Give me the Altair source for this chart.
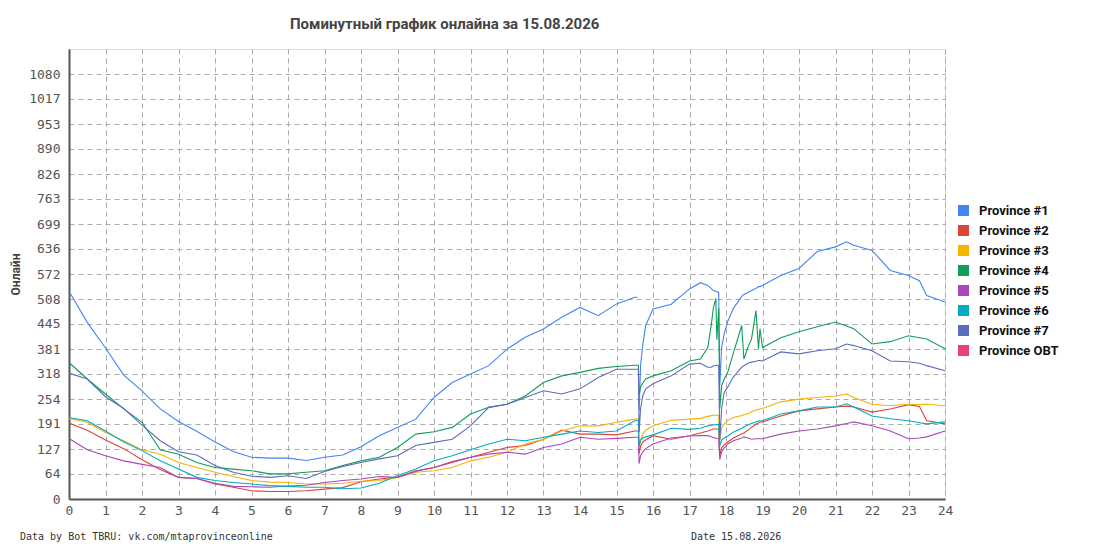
import altair as alt
import pandas as pd

# time grid (hours)
hours = [0, 0.5, 1, 1.5, 2, 2.5, 3, 3.5, 4, 4.5, 5, 5.5, 6, 6.5, 7, 7.5,
         8, 8.5, 9, 9.5, 10, 10.5, 11, 11.5, 12, 12.5, 13, 13.5, 14, 14.5, 15, 15.5,
         15.58, 15.6, 15.62, 15.66, 15.72, 15.8, 16, 16.5, 17, 17.3, 17.5, 17.6, 17.65,
         17.72, 17.75, 17.8, 17.83, 17.88, 17.95, 18.05, 18.2, 18.43, 18.49, 18.6, 18.7,
         18.82, 18.89, 18.93, 19, 19.5, 20, 20.5, 21, 21.3, 21.5, 22, 22.5, 23, 23.3, 23.5, 24]

p1 = [528, 449, 384, 315, 275, 229, 197, 172, 145, 121, 106, 104, 104, 98, 106, 112,
      133, 161, 182, 203, 258, 296, 318, 339, 381, 411, 432, 462, 487, 466, 496, 513,
      513, None, 225, 340, 392, 441, 483, 495, 534, 550, 543, 535, 530,
      528, 527, 525, 290, 385, 420, 452, 484, 515, 520, 525, 530,
      535, 540, 540, 543, 568, 586, 629, 641, 654, 645, 632, 581, 568, 555, 517, 501]

p2 = [193, 175, 150, 128, 100, 75, 55, 52, 38, 30, 21, 19, 19, 21, 25, 29,
      44, 51, 55, 72, 80, 95, 106, 119, 131, 136, 152, 175, 165, 165, 163, 173,
      173, 173, 115, 135, 145, 150, 161, 152, 161, 168, 173, 176, 178,
      178, 178, 178, 110, 130, 138, 145, 155, 165, 168, 175, 182,
      190, 193, 195, 196, 211, 224, 229, 234, 236, 234, 221, 229, 240, 235, 199, 191]

p3 = [205, 195, 169, 148, 125, 114, 93, 80, 68, 57, 47, 43, 42, 38, 38, 40,
      45, 47, 55, 68, 72, 80, 97, 106, 119, 140, 152, 173, 186, 186, 195, 203,
      203, 203, 130, 150, 165, 175, 186, 200, 203, 205, 210, 212, 213,
      213, 213, 213, 150, 180, 190, 200, 207, 212, 214, 217, 222,
      226, 228, 229, 230, 247, 254, 258, 262, 267, 258, 241, 237, 241, 240, 241, 237]

p4 = [347, 305, 267, 229, 195, 125, 114, 93, 80, 76, 72, 64, 64, 68, 72, 85,
      97, 106, 131, 165, 171, 182, 216, 233, 241, 262, 296, 313, 322, 332, 337, 340,
      340, 340, 265, 285, 295, 305, 313, 326, 351, 356, 385, 445, 484,
      510, 405, 484, 230, 288, 305, 323, 370, 441, 356, 385, 407,
      479, 382, 433, 385, 410, 425, 438, 450, 440, 433, 394, 400, 415, 410, 407, 382]

p5 = [154, 125, 110, 97, 88, 80, 55, 52, 40, 32, 31, 30, 33, 35, 42, 47,
      51, 57, 55, 70, 80, 93, 106, 114, 119, 114, 131, 140, 157, 152, 154, 157,
      157, 157, 90, 110, 120, 128, 140, 155, 160, 161, 161, 158, 156,
      155, 154, 153, 100, 120, 130, 140, 148, 155, 158, 155, 152,
      153, 153, 153, 153, 165, 173, 178, 186, 192, 196, 186, 173, 153, 155, 158, 173]

p6 = [207, 199, 173, 145, 123, 97, 76, 55, 47, 42, 38, 34, 32, 30, 30, 26,
      28, 40, 59, 76, 97, 110, 125, 140, 152, 148, 157, 165, 173, 169, 173, 199,
      199, 199, 135, 150, 155, 158, 163, 180, 177, 180, 186, 187, 188,
      189, 189, 190, 135, 150, 155, 160, 170, 180, 183, 188, 192,
      196, 198, 199, 199, 216, 224, 234, 234, 242, 234, 211, 204, 199, 194, 191, 196]

p7 = [320, 305, 260, 230, 188, 148, 120, 112, 85, 68, 58, 55, 59, 52, 70, 83,
      93, 102, 110, 136, 144, 152, 186, 233, 241, 258, 275, 267, 280, 309, 330, 330,
      330, 330, 170, 230, 262, 280, 293, 313, 343, 345, 335, 335, 338,
      340, 340, 339, 150, 230, 270, 285, 310, 335, 339, 345, 348,
      350, 352, 352, 351, 374, 369, 377, 382, 394, 390, 377, 351, 349, 345, 339, 326]

series_names = ["Province #1", "Province #2", "Province #3", "Province #4",
                "Province #5", "Province #6", "Province #7", "Province OBT"]
series_colors = ["#4285F4", "#DB4437", "#F4B400", "#0F9D58",
                 "#AB47BC", "#00ACC1", "#5C6BC0", "#EC407A"]
series_values = [p1, p2, p3, p4, p5, p6, p7]

y_ticks = [0, 64, 127, 191, 254, 318, 381, 445, 508, 572, 636, 699, 763, 826,
           890, 953, 1017, 1080]
x_ticks = list(range(0, 25))
y_max = 1144

title_text = "Поминутный график онлайна за 15.08.2026"
footer_left = "Data by Bot TBRU: vk.com/mtaprovinceonline"
footer_right = "Date 15.08.2026"

rows = []
for name, vals in zip(series_names, series_values):
    for h, v in zip(hours, vals):
        rows.append({"hour": h, "online": v, "series": name})
df = pd.DataFrame(rows)

mono = "DejaVu Sans Mono"
color_scale = alt.Scale(domain=series_names, range=series_colors)

x_enc = alt.X("hour:Q",
              scale=alt.Scale(domain=[0, 24], nice=False, zero=False),
              axis=alt.Axis(values=x_ticks, title=None, format="d", labelFont=mono,
                            labelFontSize=13, labelColor="#555", labelPadding=5,
                            ticks=False, domainColor="#555", domainWidth=2,
                            gridColor="#aaa", gridDash=[5, 4], gridWidth=1,
                            labelFlush=False, labelOverlap=False))
y_enc = alt.Y("online:Q",
              scale=alt.Scale(domain=[0, y_max], nice=False),
              axis=alt.Axis(values=y_ticks, format="d", labelFont=mono, labelFontSize=13,
                            labelColor="#555", labelPadding=9, ticks=False,
                            domainColor="#555", domainWidth=2,
                            gridColor="#aaa", gridDash=[5, 4], gridWidth=1,
                            title="Онлайн", titleFont="Roboto", titleFontSize=12,
                            titleFontWeight="bold", titleColor="#444",
                            titleAngle=270, titleX=-54, titleY=225,
                            titleAlign="center", titleBaseline="middle",
                            labelFlush=False, labelOverlap=False))

lines = alt.Chart(df).mark_line(strokeWidth=1.1, interpolate="linear").encode(
    x=x_enc,
    y=y_enc,
    color=alt.Color("series:N", scale=color_scale, legend=None),
    order=alt.Order("hour:Q"),
)

legend_marks = alt.Chart(df).transform_filter("datum.hour < 0").mark_point(
    shape="square", filled=True, opacity=1
).encode(
    x=x_enc,
    y=y_enc,
    color=alt.Color("series:N", scale=color_scale,
                    legend=alt.Legend(title=None, orient="none", legendX=888, legendY=155,
                                      symbolType="square", symbolSize=121,
                                      symbolStrokeWidth=0, symbolOpacity=1,
                                      labelFont="Roboto", labelFontSize=13,
                                      labelFontWeight="bold", labelColor="#111",
                                      labelOffset=9, rowPadding=6)),
)

footer_df = pd.DataFrame({"t": [footer_left, footer_right], "px": [-49, 622]})
footers = alt.Chart(footer_df).mark_text(
    font=mono, fontSize=10, color="#333", align="left", baseline="middle"
).encode(
    text="t:N",
    x=alt.X("px:Q", scale=None),
    y=alt.value(488),
)

chart = alt.layer(lines, legend_marks, footers).resolve_legend(
    color="independent"
).properties(
    width=876,
    height=450,
    title=alt.TitleParams(title_text, anchor="start", dx=281, offset=17,
                          font="Roboto", fontSize=15, fontWeight="bold", color="#444"),
    autosize=alt.AutoSizeParams(type="none"),
    padding={"left": 61, "top": 41, "right": 140, "bottom": 46},
).configure_view(stroke="#666", strokeWidth=1.5).configure(background="white")

chart.save("out.html", embed_options={"renderer": "svg", "actions": False})
